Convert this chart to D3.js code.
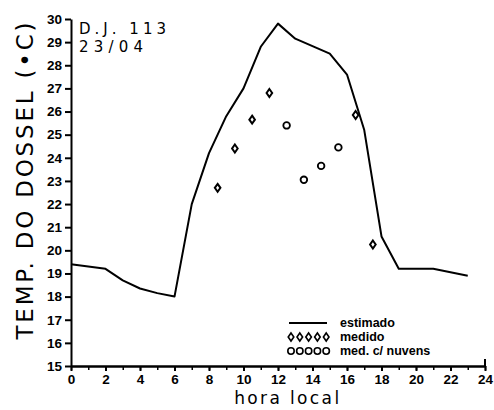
<!DOCTYPE html>
<html>
<head>
<meta charset="utf-8">
<script src="https://cdn.jsdelivr.net/npm/d3@7"></script>
<style>
  body { margin: 0; background: #fff; }
  svg { display: block; }
</style>
</head>
<body>
<svg id="chart"></svg>
<script>
// estimated canopy temperature (line)
const estHours = [0, 2, 3, 4, 5, 6, 7, 8, 9, 10, 11, 12, 13, 15, 16, 17, 18, 19, 21, 23];
const estTemp = [19.4, 19.2, 18.7, 18.35, 18.15, 18.0, 22.0, 24.2, 25.8, 27.0, 28.8, 29.8, 29.15, 28.5, 27.6, 25.2, 20.6, 19.2, 19.2, 18.9];

// measured (diamonds)
const medHours = [8.5, 9.5, 10.5, 11.5, 16.5, 17.5];
const medTemp = [22.7, 24.4, 25.65, 26.8, 25.85, 20.25];

// measured with clouds (circles)
const nuvHours = [12.5, 13.5, 14.5, 15.5];
const nuvTemp = [25.4, 23.05, 23.65, 24.45];

const xLabels = d3.range(0, 25, 2);
const yLabels = d3.range(15, 31, 1);

const width = 494, height = 410;
const svg = d3.select("#chart").attr("width", width).attr("height", height);

const x = d3.scaleLinear().domain([0, 24]).range([71, 485]);
const y = d3.scaleLinear().domain([15, 30]).range([366, 19]);

const tickFont = "Liberation Sans, Arial, sans-serif";

// y axis
const yAxis = svg.append("g")
  .attr("transform", `translate(${x(0)},0)`)
  .call(d3.axisLeft(y).tickValues(yLabels).tickSize(6).tickSizeOuter(0).tickPadding(3));
yAxis.select(".domain").attr("stroke-width", 2);
yAxis.selectAll(".tick line").attr("stroke-width", 2);
yAxis.selectAll(".tick text")
  .attr("font-family", tickFont).attr("font-weight", "bold").attr("font-size", 13.5).attr("fill", "#000");

// x axis: minor ticks every hour, labels every 2
const xAxisMinor = svg.append("g")
  .attr("transform", `translate(0,${y(15)})`)
  .call(d3.axisBottom(x).tickValues(d3.range(0, 25, 1)).tickSize(4).tickSizeOuter(0).tickFormat(""));
xAxisMinor.select(".domain").attr("stroke-width", 2.5);
xAxisMinor.selectAll(".tick line").attr("stroke-width", 1.5);

const xAxis = svg.append("g")
  .attr("transform", `translate(0,${y(15)})`)
  .call(d3.axisBottom(x).tickValues(xLabels).tickSize(5).tickSizeOuter(0).tickPadding(3));
xAxis.select(".domain").remove();
xAxis.selectAll(".tick line").attr("stroke-width", 2);
xAxis.selectAll(".tick text")
  .attr("font-family", tickFont).attr("font-weight", "bold").attr("font-size", 13.5).attr("fill", "#000");

// small end hook at the right end of x axis
svg.append("line")
  .attr("x1", x(24)).attr("x2", x(24))
  .attr("y1", y(15)).attr("y2", y(15) - 7)
  .attr("stroke", "#000").attr("stroke-width", 2);

// axis titles
svg.append("text")
  .attr("transform", `translate(33,${181}) rotate(-90)`)
  .attr("text-anchor", "middle")
  .attr("font-family", "DejaVu Sans, sans-serif")
  .attr("font-size", 23)
  .attr("textLength", 317)
  .attr("lengthAdjust", "spacing")
  .text("TEMP. DO DOSSEL (•C)");

svg.append("text")
  .attr("x", x(12.5)).attr("y", 404)
  .attr("text-anchor", "middle")
  .attr("font-family", "DejaVu Sans, sans-serif")
  .attr("font-size", 17)
  .attr("textLength", 105)
  .text("hora local");

// annotation
svg.append("text")
  .attr("x", 79).attr("y", 34)
  .attr("font-family", "DejaVu Sans, sans-serif")
  .attr("font-size", 15)
  .attr("textLength", 87).attr("lengthAdjust", "spacing")
  .text("D.J.  113");
svg.append("text")
  .attr("x", 79).attr("y", 52)
  .attr("font-family", "DejaVu Sans, sans-serif")
  .attr("font-size", 15)
  .attr("textLength", 64).attr("lengthAdjust", "spacing")
  .text("23/04");

// estimated line
const est = estHours.map((h, i) => [h, estTemp[i]]);
svg.append("path")
  .datum(est)
  .attr("fill", "none")
  .attr("stroke", "#000")
  .attr("stroke-width", 2)
  .attr("stroke-linejoin", "round")
  .attr("d", d3.line().x(d => x(d[0])).y(d => y(d[1])));

// markers
const diamond = (cx, cy) => `M${cx},${cy - 4}L${cx + 2.8},${cy}L${cx},${cy + 4}L${cx - 2.8},${cy}Z`;

svg.append("g").selectAll("path")
  .data(medHours.map((h, i) => [h, medTemp[i]]))
  .join("path")
  .attr("d", d => diamond(x(d[0]), y(d[1])))
  .attr("fill", "none").attr("stroke", "#000").attr("stroke-width", 2);

svg.append("g").selectAll("circle")
  .data(nuvHours.map((h, i) => [h, nuvTemp[i]]))
  .join("circle")
  .attr("cx", d => x(d[0])).attr("cy", d => y(d[1]))
  .attr("r", 3.3)
  .attr("fill", "none").attr("stroke", "#000").attr("stroke-width", 1.8);

// legend
const lg = svg.append("g").attr("font-family", tickFont).attr("font-weight", "bold").attr("font-size", 12.5);
lg.append("line").attr("x1", 289).attr("x2", 327).attr("y1", 323).attr("y2", 323)
  .attr("stroke", "#000").attr("stroke-width", 2);
lg.append("text").attr("x", 340).attr("y", 327).text("estimado");
d3.range(5).forEach(i => {
  lg.append("path").attr("d", diamond(291 + i * 8.8, 337))
    .attr("fill", "none").attr("stroke", "#000").attr("stroke-width", 1.6);
  lg.append("circle").attr("cx", 291 + i * 8.8).attr("cy", 351).attr("r", 3.2)
    .attr("fill", "none").attr("stroke", "#000").attr("stroke-width", 1.6);
});
lg.append("text").attr("x", 340).attr("y", 341).text("medido");
lg.append("text").attr("x", 340).attr("y", 355).text("med.  c/  nuvens");
</script>
</body>
</html>
